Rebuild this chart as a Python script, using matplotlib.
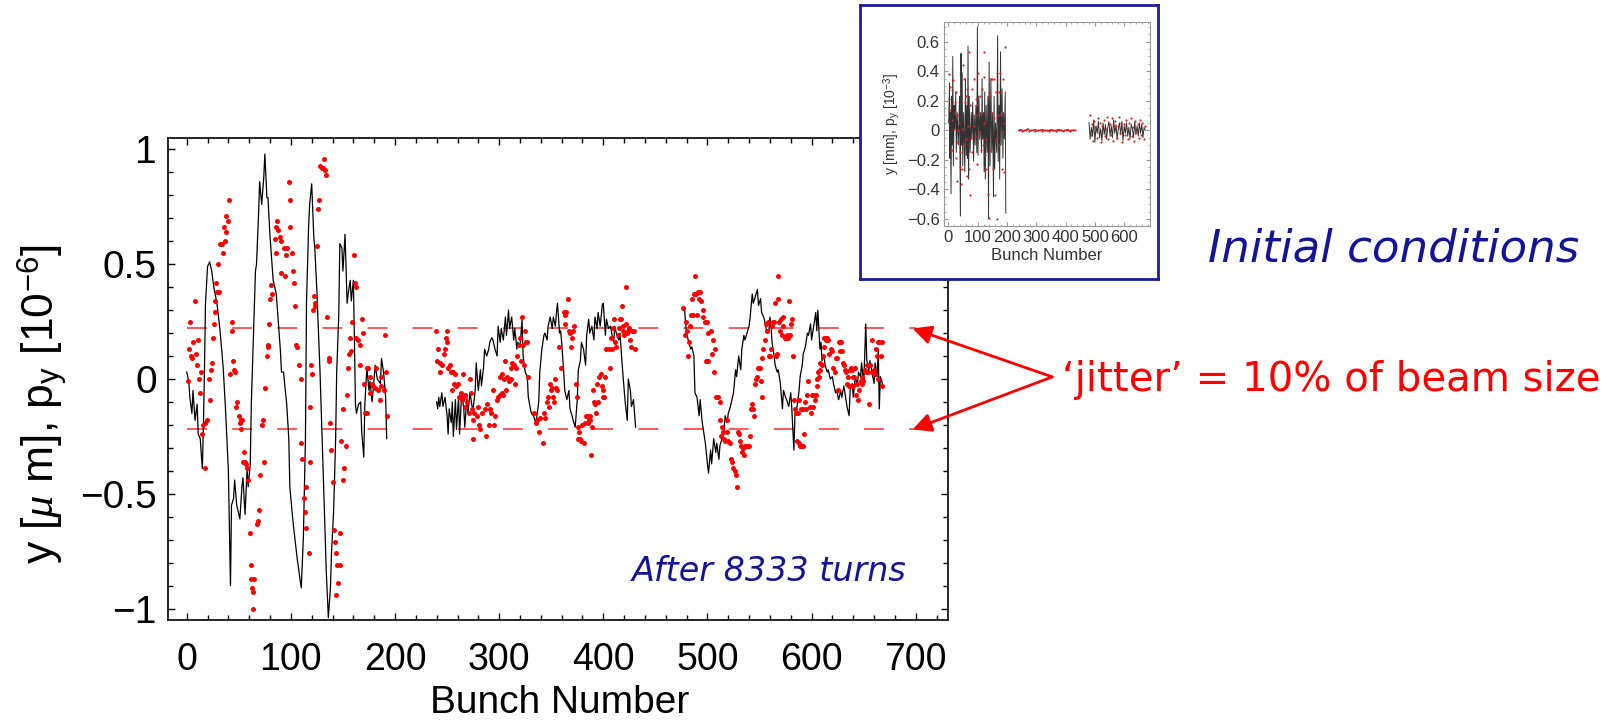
import matplotlib
import matplotlib.pyplot as plt
from matplotlib.ticker import MultipleLocator

plt.switch_backend('Agg')
plt.rcParams['font.family'] = ['Liberation Sans', 'DejaVu Sans']
plt.rcParams['mathtext.fontset'] = 'custom'
plt.rcParams['mathtext.rm'] = 'Liberation Sans'
plt.rcParams['mathtext.it'] = 'Liberation Serif:italic'

# ---- main plot: vertical offset y (line) per bunch, after 8333 turns ----
y_train1 = [(0, 0.03), (2, -0.01), (3, -0.08), (5, -0.15), (6, -0.05), (8, -0.18), (10, -0.11),
            (11, -0.24), (13, -0.26), (14, -0.33), (15, -0.39), (16, -0.21), (17, 0.03), (18, 0.33),
            (20, 0.49), (22, 0.51), (24, 0.47), (26, 0.40), (29, 0.33), (32, 0.21), (35, 0.05),
            (37, -0.11), (40, -0.40), (42, -0.90), (43, -0.55), (45, -0.52), (46, -0.44), (48, -0.55),
            (51, -0.61), (53, -0.47), (54, -0.43), (56, -0.59), (58, -0.39), (59, -0.47), (61, -0.37),
            (62, -0.11), (64, 0.18), (66, 0.47), (67, 0.50), (69, 0.72), (70, 0.86), (72, 0.76),
            (74, 0.88), (75, 0.98), (77, 0.79), (78, 0.79), (80, 0.62), (83, 0.43), (86, 0.37),
            (90, 0.12), (91, 0.03), (93, 0.03), (94, -0.02), (96, -0.11), (98, -0.26), (99, -0.47),
            (102, -0.62), (106, -0.78), (109, -0.88), (110, -0.91), (112, -0.69), (114, -0.26),
            (115, 0.33), (117, 0.66), (118, 0.76), (120, 0.85), (122, 0.62), (123, 0.57), (125, 0.38),
            (128, 0.03), (131, -0.40), (134, -0.84), (136, -1.04), (138, -0.91), (139, -0.76),
            (141, -0.58), (143, -0.26), (144, 0.03), (146, 0.28), (147, 0.59), (149, 0.57),
            (150, 0.47), (152, 0.63), (154, 0.33), (155, 0.37), (157, 0.43), (158, 0.34), (160, 0.43),
            (161, 0.18), (162, -0.11), (163, -0.15), (165, -0.11), (167, -0.10), (168, -0.23),
            (170, -0.34), (171, -0.11), (173, 0.05), (175, -0.05), (176, -0.01), (178, -0.10),
            (179, -0.05), (181, 0.06), (183, 0.00), (186, -0.02), (187, 0.09), (189, 0.03),
            (191, -0.08), (192, -0.26)]

y_train2 = [(240, -0.10), (241, -0.13), (242, -0.08), (243, -0.12), (245, -0.06), (246, -0.12),
            (248, -0.08), (250, -0.16), (251, -0.24), (252, -0.13), (254, -0.19), (255, -0.10),
            (256, -0.25), (258, -0.09), (259, -0.22), (261, -0.08), (262, -0.24), (264, -0.06),
            (266, -0.13), (267, -0.21), (269, -0.08), (270, -0.15), (272, -0.06), (274, -0.12),
            (275, -0.13), (277, -0.05), (278, 0.07), (280, -0.05), (282, 0.04), (283, -0.03),
            (285, 0.05), (286, 0.13), (288, 0.10), (290, 0.13), (291, 0.16), (293, 0.18), (294, 0.17),
            (296, 0.13), (298, 0.10), (299, 0.23), (301, 0.16), (302, 0.22), (304, 0.17), (306, 0.27),
            (307, 0.19), (309, 0.30), (310, 0.22), (312, 0.27), (314, 0.17), (315, 0.22), (317, 0.13),
            (318, 0.16), (320, 0.14), (322, 0.26), (323, 0.10), (325, 0.03), (327, 0.01), (328, -0.08),
            (330, -0.13), (331, -0.15), (333, -0.16), (335, -0.19), (336, -0.17), (338, -0.10),
            (339, 0.03), (341, 0.13), (343, 0.19), (344, 0.20), (346, 0.17), (347, 0.23), (349, 0.27),
            (351, 0.22), (352, 0.27), (354, 0.23), (355, 0.29), (356, 0.33), (358, 0.20), (359, 0.21),
            (360, 0.16), (362, 0.03), (363, -0.05), (365, -0.09), (367, -0.05), (368, -0.13),
            (370, -0.16), (371, -0.18), (373, -0.21), (375, -0.09), (376, 0.04), (378, 0.08),
            (379, 0.16), (381, 0.13), (383, 0.06), (384, 0.19), (386, 0.26), (387, 0.20), (389, 0.23),
            (391, 0.17), (392, 0.27), (394, 0.22), (395, 0.29), (397, 0.23), (399, 0.32), (400, 0.33),
            (402, 0.19), (403, 0.26), (405, 0.22), (407, 0.23), (408, 0.20), (410, 0.16), (411, 0.23),
            (413, 0.19), (415, 0.17), (416, 0.20), (418, 0.07), (419, 0.01), (421, -0.10),
            (423, -0.18), (424, 0.00), (426, -0.05), (427, -0.12), (429, -0.09), (430, -0.15),
            (431, -0.21)]

y_train3 = [(478, 0.31), (479, 0.24), (480, 0.20), (482, 0.16), (484, 0.13), (485, 0.14), (487, 0.10),
            (488, -0.06), (490, -0.08), (492, -0.16), (493, -0.09), (495, -0.19), (496, -0.22),
            (498, -0.28), (500, -0.37), (501, -0.41), (503, -0.31), (504, -0.37), (506, -0.26),
            (508, -0.32), (509, -0.28), (511, -0.35), (512, -0.29), (514, -0.26), (516, -0.22),
            (517, -0.16), (519, -0.19), (520, -0.15), (522, -0.12), (524, -0.08), (525, -0.06),
            (527, 0.04), (528, 0.01), (530, 0.10), (532, 0.04), (533, 0.13), (535, 0.19), (536, 0.17),
            (538, 0.20), (540, 0.23), (541, 0.27), (543, 0.37), (544, 0.33), (546, 0.36), (548, 0.39),
            (549, 0.32), (551, 0.35), (552, 0.29), (554, 0.27), (556, 0.23), (557, 0.20), (559, 0.21),
            (560, 0.27), (561, 0.23), (562, 0.16), (564, 0.10), (565, 0.06), (567, 0.03), (568, 0.04),
            (570, -0.02), (572, -0.13), (573, -0.05), (575, -0.08), (576, -0.09), (578, -0.12),
            (580, -0.06), (581, -0.13), (583, -0.31), (584, -0.16), (586, -0.12), (588, -0.05),
            (589, 0.01), (591, 0.06), (592, 0.11), (594, 0.14), (596, 0.20), (597, 0.19), (599, 0.24),
            (600, 0.17), (602, 0.23), (604, 0.29), (605, 0.21), (606, 0.30), (608, 0.13), (609, 0.16),
            (610, 0.08), (612, 0.10), (613, 0.06), (615, 0.03), (616, 0.04), (618, 0.00), (620, 0.01),
            (621, -0.02), (623, -0.06), (624, -0.05), (626, -0.09), (628, -0.05), (629, -0.08),
            (631, -0.03), (632, -0.06), (634, -0.12), (636, -0.16), (637, -0.05), (639, -0.02),
            (640, -0.08), (642, 0.01), (644, -0.03), (645, 0.03), (647, 0.01), (648, 0.07),
            (650, -0.02), (651, 0.10), (652, 0.24), (653, 0.08), (655, 0.04), (656, 0.08), (658, 0.03),
            (660, -0.02), (661, 0.07), (663, 0.01), (664, 0.13), (665, -0.13), (666, 0.01), (668, -0.02)]

# ---- main plot: angle p_y (red dots) per bunch ----
py_train1 = [(1, -0.01), (3, 0.25), (2, 0.13), (4, 0.10), (5, 0.09), (6, 0.16), (8, 0.34), (9, 0.11),
             (10, 0.06), (11, 0.17), (12, 0.00), (13, -0.06), (14, 0.03), (15, -0.24), (16, -0.20),
             (18, -0.39), (19, -0.18), (18, -0.19), (21, 0.00), (22, -0.09), (23, 0.04), (24, 0.07),
             (25, 0.18), (26, 0.24), (27, 0.29), (27, 0.34), (28, 0.42), (29, 0.38), (31, 0.38),
             (30, 0.50), (32, 0.59), (34, 0.59), (35, 0.55), (36, 0.66), (37, 0.60), (38, 0.64),
             (38, 0.71), (40, 0.69), (41, 0.78), (42, 0.02), (43, 0.25), (43, 0.21), (44, 0.08),
             (45, 0.04), (46, 0.03), (47, -0.12), (48, -0.10), (50, -0.16), (51, -0.19), (52, -0.18),
             (52, -0.22), (53, -0.18), (55, -0.32), (54, -0.36), (56, -0.36), (57, -0.37), (59, -0.44),
             (58, -0.39), (61, -0.67), (62, -0.81), (62, -0.87), (63, -0.91), (64, -0.93), (65, -0.87),
             (64, -1.00), (67, -0.63), (68, -0.62), (69, -0.57), (70, -0.42), (72, -0.20), (73, -0.18),
             (74, -0.36), (75, -0.04), (77, 0.10), (78, 0.14), (78, 0.15), (79, 0.24), (80, 0.35),
             (81, 0.41), (82, 0.37), (85, 0.61), (86, 0.55), (86, 0.66), (87, 0.69), (88, 0.65),
             (90, 0.62), (91, 0.60), (91, 0.46), (93, 0.57), (94, 0.45), (95, 0.54), (96, 0.57),
             (98, 0.86), (99, 0.78), (99, 0.66), (101, 0.55), (102, 0.47), (103, 0.42), (104, 0.32),
             (105, 0.15), (106, 0.14), (108, 0.06), (110, 0.00), (110, -0.28), (111, -0.35),
             (113, -0.52), (114, -0.58), (115, -0.47), (115, -0.65), (117, -0.76), (118, -0.36),
             (118, -0.12), (119, 0.06), (120, 0.02), (121, 0.30), (122, 0.36), (123, 0.32), (123, 0.33),
             (125, 0.58), (126, 0.74), (127, 0.78), (128, 0.93), (130, 0.92), (131, 0.92), (133, 0.91),
             (134, 0.89), (132, 0.96), (135, 0.27), (137, 0.09), (137, 0.08), (138, -0.19), (139, -0.31),
             (140, -0.45), (141, -0.66), (142, -0.71), (143, -0.76), (144, -0.81), (145, -0.89),
             (143, -0.94), (147, -0.81), (147, -0.67), (148, -0.27), (150, -0.13), (150, -0.44),
             (151, -0.39), (153, -0.29), (154, -0.07), (155, 0.05), (156, 0.11), (157, 0.18),
             (158, 0.12), (159, 0.25), (161, 0.54), (162, 0.42), (163, 0.40), (163, 0.18), (164, 0.17),
             (166, 0.06), (166, 0.15), (168, 0.26), (169, 0.20), (170, -0.02), (173, 0.05), (174, 0.05),
             (176, 0.01), (178, -0.02), (179, -0.03), (181, -0.04), (182, 0.05), (184, -0.05),
             (186, -0.09), (187, 0.01), (187, -0.03), (189, -0.05), (190, 0.19), (191, 0.03),
             (192, -0.16), (176, -0.06), (173, -0.15), (171, -0.15)]

py_train2 = [(239, 0.21), (240, 0.08), (241, 0.13), (243, 0.07), (243, 0.03), (245, 0.06), (247, 0.11),
             (248, 0.13), (249, 0.18), (250, 0.21), (250, 0.16), (251, 0.05), (253, 0.06), (254, 0.03),
             (255, -0.05), (256, 0.03), (257, -0.02), (258, 0.02), (259, -0.03), (260, -0.02),
             (261, -0.08), (263, -0.06), (264, -0.09), (265, 0.02), (266, -0.08), (267, -0.12),
             (267, -0.07), (269, -0.10), (271, -0.15), (272, 0.00), (273, -0.06), (274, -0.13),
             (275, -0.18), (275, -0.26), (276, -0.15), (279, -0.16), (280, -0.12), (281, -0.20),
             (282, -0.22), (284, -0.15), (286, -0.13), (287, -0.25), (288, -0.11), (290, -0.20),
             (291, -0.13), (292, -0.15), (294, -0.05), (295, -0.20), (296, -0.16), (298, -0.09),
             (299, -0.08), (301, -0.07), (303, -0.06), (304, -0.07), (301, 0.01), (303, 0.02),
             (305, 0.00), (306, 0.08), (307, -0.05), (308, 0.01), (309, -0.01), (311, 0.00),
             (311, 0.05), (312, 0.07), (314, 0.06), (315, -0.02), (316, 0.05), (317, 0.10), (319, 0.15),
             (320, 0.18), (321, 0.08), (322, 0.27), (323, 0.15), (324, 0.06), (325, 0.21), (326, 0.16),
             (327, 0.16), (328, 0.01), (333, -0.15), (335, -0.19), (336, -0.18), (338, -0.23),
             (339, -0.17), (342, -0.28), (343, -0.15), (344, -0.17), (346, -0.10), (347, -0.08),
             (348, -0.12), (349, -0.02), (350, -0.05), (351, -0.04), (352, -0.08), (353, -0.10),
             (354, 0.00), (355, -0.04), (356, -0.05), (357, 0.14), (359, 0.05), (362, 0.29),
             (363, 0.28), (363, 0.24), (364, 0.29), (366, 0.35), (367, 0.21), (368, 0.20), (369, 0.14),
             (370, 0.18), (371, 0.21), (372, 0.23), (374, -0.02), (375, -0.08), (376, -0.21),
             (376, -0.26), (377, -0.23), (378, -0.26), (379, -0.27), (380, -0.20), (381, -0.28),
             (382, -0.19), (383, -0.16), (384, -0.16), (385, -0.19), (386, -0.18), (387, -0.16),
             (387, -0.18), (388, -0.33), (389, -0.21), (390, -0.05), (391, -0.10), (392, -0.11),
             (393, -0.15), (394, -0.02), (395, -0.10), (396, 0.01), (398, 0.02), (399, -0.03),
             (400, -0.05), (400, -0.08), (401, -0.08), (402, 0.01), (403, 0.13), (405, 0.13),
             (406, 0.05), (407, 0.18), (408, 0.13), (409, 0.22), (410, 0.26), (411, 0.16), (412, 0.14),
             (414, 0.19), (415, 0.22), (416, 0.26), (417, 0.26), (418, 0.32), (419, 0.23), (419, 0.21),
             (420, 0.19), (422, 0.40), (422, 0.24), (423, 0.20), (424, 0.21), (425, 0.22), (426, 0.17),
             (427, 0.14), (428, 0.21), (429, 0.21), (430, 0.13)]

py_train3 = [(477, 0.31), (478, 0.19), (479, 0.25), (480, 0.21), (481, 0.10), (482, 0.16), (483, 0.23),
             (484, 0.28), (485, 0.35), (486, 0.28), (487, 0.37), (488, 0.45), (489, 0.37), (490, 0.28),
             (491, 0.38), (492, 0.35), (493, 0.38), (494, 0.34), (496, 0.30), (496, 0.27), (498, 0.25),
             (500, 0.25), (501, 0.20), (503, 0.21), (504, 0.11), (505, 0.17), (506, 0.03), (507, 0.13),
             (499, 0.08), (501, 0.08), (508, -0.08), (510, -0.08), (512, -0.10), (512, -0.18),
             (514, -0.21), (513, -0.25), (515, -0.23), (516, -0.26), (517, -0.27), (519, -0.23),
             (519, -0.18), (520, -0.27), (522, -0.28), (523, -0.35), (524, -0.36), (525, -0.39),
             (526, -0.40), (527, -0.42), (528, -0.47), (529, -0.23), (530, -0.24), (531, -0.27),
             (532, -0.29), (533, -0.32), (534, -0.30), (535, -0.33), (536, -0.29), (538, -0.29),
             (540, -0.29), (541, -0.25), (542, -0.13), (543, -0.11), (544, -0.13), (545, -0.16),
             (546, -0.02), (547, 0.00), (548, 0.01), (549, 0.05), (550, 0.05), (551, -0.01),
             (552, -0.08), (552, 0.09), (553, 0.13), (555, 0.17), (556, 0.24), (557, 0.21), (558, 0.25),
             (559, 0.10), (560, 0.10), (561, 0.13), (562, 0.23), (563, 0.25), (564, 0.25), (565, 0.33),
             (566, 0.10), (567, 0.11), (568, 0.35), (568, 0.45), (569, 0.25), (570, 0.21), (571, 0.26),
             (572, 0.19), (573, 0.23), (573, 0.27), (574, 0.18), (575, 0.18), (576, 0.19), (577, 0.18),
             (578, 0.34), (579, 0.19), (580, 0.24), (581, 0.26), (582, 0.10), (583, -0.09),
             (584, -0.13), (585, -0.15), (586, -0.27), (588, -0.28), (589, -0.29), (591, -0.29),
             (592, -0.29), (587, -0.15), (588, -0.09), (590, -0.13), (592, -0.13), (593, -0.24),
             (594, -0.10), (595, -0.13), (596, -0.07), (597, -0.01), (598, -0.12), (599, -0.15),
             (600, -0.07), (601, -0.12), (602, -0.07), (603, -0.09), (604, -0.07), (605, -0.03),
             (605, 0.00), (606, 0.03), (607, 0.01), (608, 0.04), (608, 0.07), (610, 0.06), (611, 0.10),
             (612, 0.14), (612, 0.18), (613, 0.18), (614, 0.17), (615, 0.18), (616, 0.17), (617, 0.11),
             (619, 0.13), (620, 0.12), (621, 0.05), (622, 0.03), (623, 0.09), (624, 0.09), (625, -0.05),
             (626, 0.16), (627, 0.12), (628, 0.16), (629, 0.12), (630, 0.07), (631, 0.06), (632, 0.04),
             (633, 0.03), (634, -0.02), (635, 0.01), (636, -0.03), (637, 0.04), (638, 0.05), (639, 0.04),
             (640, 0.01), (640, -0.03), (641, 0.01), (642, 0.05), (643, -0.07), (644, -0.02),
             (645, -0.09), (646, -0.05), (647, -0.01), (648, -0.02), (648, 0.01), (649, -0.01),
             (651, 0.04), (652, 0.03), (653, 0.06), (654, 0.03), (655, -0.11), (656, 0.06), (658, 0.03),
             (658, 0.17), (660, 0.04), (661, 0.02), (662, 0.13), (663, 0.10), (664, 0.16), (664, 0.00),
             (665, 0.16), (667, 0.10), (668, 0.16), (668, -0.03)]

jitter = 0.22          # 10% of beam size
jitter_span = (0, 700)

# ---- inset: initial conditions ----
ins_y1 = [(1, 0.05), (4, 0.32), (5, -0.19), (7, 0.12), (9, -0.43), (11, 0.23), (13, -0.10), (15, 0.50),
          (17, -0.24), (20, 0.17), (22, 0.01), (25, 0.26), (27, -0.15), (30, 0.12), (34, -0.10),
          (38, 0.23), (41, -0.58), (43, 0.52), (45, -0.10), (47, 0.39), (49, -0.24), (52, 0.12),
          (56, -0.28), (58, 0.35), (61, -0.17), (63, 0.17), (65, -0.19), (67, 0.57), (69, -0.33),
          (71, 0.23), (74, -0.15), (78, 0.12), (80, -0.06), (83, 0.19), (86, -0.21), (88, 0.10),
          (91, -0.10), (94, 0.17), (97, -0.15), (99, 0.70), (101, -0.17), (104, 0.23), (107, -0.06),
          (110, 0.12), (113, -0.15), (115, 0.35), (117, -0.06), (120, 0.12), (122, -0.28), (124, 0.26),
          (126, -0.33), (129, 0.17), (132, -0.15), (135, 0.23), (137, -0.60), (139, 0.46), (142, -0.24),
          (145, 0.35), (148, -0.15), (151, 0.12), (154, -0.45), (156, 0.23), (158, -0.26), (161, 0.05),
          (165, -0.15), (168, 0.64), (170, -0.21), (173, 0.17), (175, -0.33), (178, 0.53), (180, -0.10),
          (183, 0.28), (186, -0.19), (188, 0.12), (191, -0.06), (194, 0.26), (196, -0.56)]
ins_y2 = [(240, 0.000), (248, 0.005), (256, -0.005), (264, 0.000), (272, 0.010), (280, -0.005),
          (288, 0.000), (296, 0.005), (304, -0.005), (312, 0.000), (320, 0.005), (328, 0.000),
          (336, -0.005), (344, 0.000), (352, 0.005), (360, -0.005), (368, 0.000), (376, 0.005),
          (384, 0.000), (392, -0.005), (400, 0.000), (408, 0.005), (416, -0.005), (424, 0.000),
          (432, 0.000)]
ins_y3 = [(480, 0.05), (484, -0.06), (488, 0.02), (492, -0.04), (496, 0.07), (500, -0.08), (504, 0.03),
          (508, -0.02), (512, 0.06), (516, -0.05), (520, 0.01), (524, -0.07), (528, 0.05), (532, -0.03),
          (536, 0.04), (540, -0.06), (544, 0.02), (548, 0.06), (552, -0.04), (556, 0.03), (560, -0.05),
          (564, 0.07), (568, -0.02), (572, 0.04), (576, -0.06), (580, 0.01), (584, 0.05), (588, -0.03),
          (592, 0.06), (596, -0.07), (600, 0.03), (604, -0.02), (608, 0.05), (612, -0.04), (616, 0.02),
          (620, -0.06), (624, 0.04), (628, 0.01), (632, -0.05), (636, 0.06), (640, -0.03), (644, 0.03),
          (648, -0.04), (652, 0.05), (656, -0.02), (660, 0.04), (664, -0.05), (668, 0.02), (672, 0.00)]

ins_py1 = [(1, 0.21), (3, 0.38), (5, 0.29), (7, 0.14), (9, 0.17), (11, 0.07), (12, 0.27), (14, -0.13),
           (17, 0.34), (20, 0.01), (22, 0.19), (23, 0.12), (25, -0.19), (27, 0.26), (29, -0.34),
           (30, -0.08), (33, 0.00), (34, 0.10), (36, 0.05), (38, -0.15), (40, -0.25), (43, -0.36),
           (45, 0.01), (47, -0.26), (49, 0.44), (52, 0.35), (54, -0.10), (57, 0.19), (59, -0.06),
           (61, 0.23), (63, 0.28), (65, -0.31), (67, 0.03), (69, 0.53), (71, -0.26), (73, -0.44),
           (75, 0.17), (78, -0.05), (80, -0.15), (82, 0.28), (84, 0.10), (87, 0.35), (88, 0.03),
           (91, -0.04), (93, 0.21), (96, 0.10), (98, -0.23), (100, 0.39), (102, 0.17), (104, 0.12),
           (107, 0.23), (109, -0.01), (110, 0.12), (112, -0.13), (114, 0.28), (117, -0.10), (120, 0.53),
           (122, 0.36), (123, 0.05), (126, -0.17), (128, -0.26), (130, -0.06), (133, 0.12), (135, -0.43),
           (137, -0.59), (139, 0.26), (141, -0.13), (143, 0.23), (146, 0.35), (148, 0.12), (150, 0.35),
           (152, -0.26), (154, 0.08), (157, 0.35), (159, -0.44), (161, -0.06), (163, 0.26), (165, 0.39),
           (167, -0.60), (170, 0.10), (172, 0.26), (174, -0.10), (176, 0.39), (178, 0.12), (180, 0.10),
           (183, -0.26), (185, -0.01), (187, 0.35), (189, -0.28), (191, 0.05), (193, 0.56)]
ins_py2 = [(240, 0.005), (246, 0.000), (252, -0.005), (258, 0.005), (264, 0.000), (270, 0.010),
           (276, -0.005), (282, 0.000), (288, 0.005), (294, -0.005), (300, 0.000), (306, 0.005),
           (312, 0.000), (318, -0.005), (324, 0.005), (330, 0.000), (336, 0.005), (342, -0.005),
           (348, 0.000), (354, 0.005), (360, 0.000), (366, -0.005), (372, 0.005), (378, 0.000),
           (384, 0.005), (390, -0.005), (396, 0.000), (402, 0.005), (408, 0.000), (414, -0.005),
           (420, 0.005), (426, 0.000), (432, 0.000)]
ins_py3 = [(482, 0.10), (486, -0.03), (490, 0.04), (494, -0.07), (498, 0.06), (502, 0.02), (506, -0.05),
           (510, 0.08), (514, -0.02), (518, 0.05), (522, -0.08), (526, 0.03), (530, 0.07), (534, -0.04),
           (538, 0.01), (542, 0.09), (546, -0.06), (550, 0.04), (554, -0.03), (558, 0.08), (562, -0.07),
           (566, 0.02), (570, 0.06), (574, -0.05), (578, 0.03), (582, 0.09), (586, -0.02), (590, 0.05),
           (594, -0.08), (598, 0.04), (602, -0.03), (606, 0.07), (610, 0.01), (614, -0.06), (618, 0.05),
           (622, 0.08), (626, -0.04), (630, 0.02), (634, -0.07), (638, 0.06), (642, -0.01), (646, 0.04),
           (650, -0.05), (654, 0.07), (658, -0.03), (662, 0.05), (666, -0.06), (670, 0.03)]


def main():
    fig = plt.figure(figsize=(16.09, 7.22), dpi=100)

    # Main chart
    ax = fig.add_axes([0.1044, 0.1413, 0.4848, 0.6676])
    for pts in (y_train1, y_train2, y_train3):
        xs, ys = zip(*pts)
        ax.plot(xs, ys, color='black', lw=0.9, zorder=2)
    for pts in (py_train1, py_train2, py_train3):
        xs, ys = zip(*pts)
        ax.plot(xs, ys, 'o', color='red', ms=3.6, mew=0, zorder=3)
    ax.hlines([jitter, -jitter], *jitter_span, colors='#ff4a4a', lw=1.3,
              linestyles=[(0, (11, 14))], zorder=1)

    ax.set_xlim(-18, 731)
    ax.set_ylim(-1.05, 1.05)
    ax.xaxis.set_major_locator(MultipleLocator(100))
    ax.xaxis.set_minor_locator(MultipleLocator(20))
    ax.set_yticks([-1, -0.5, 0, 0.5, 1])
    ax.set_yticklabels(['\u22121', '\u22120.5', '0', '0.5', '1'])
    ax.yaxis.set_minor_locator(MultipleLocator(0.1))
    ax.tick_params(which='both', direction='in', top=True, right=True, width=1)
    ax.tick_params(which='major', length=5)
    ax.tick_params(which='minor', length=3.5)
    ax.tick_params(axis='y', labelsize=28, pad=8)
    ax.tick_params(axis='x', labelsize=27, pad=16)
    for sp in ax.spines.values():
        sp.set_linewidth(1.2)

    fig.text(0.026, 0.44, r'y [$\mu$ m], p$_\mathrm{y}$ [10$^{-6}$]', rotation=90,
             ha='center', va='center', fontsize=32)
    fig.text(0.348, 0.026, 'Bunch Number', ha='center', va='center', fontsize=28)
    fig.text(0.5637, 0.208, 'After 8333 turns', ha='right', va='center', style='italic',
             color='#14149a', fontsize=24, family='DejaVu Sans')

    # Arrows to the jitter band
    for yv in (jitter, -jitter):
        ax.annotate('', xy=(697, yv), xycoords='data', xytext=(0.654, 0.478),
                    textcoords='figure fraction', annotation_clip=False,
                    arrowprops=dict(arrowstyle='-|>', color='red', lw=2,
                                    mutation_scale=28, shrinkA=0, shrinkB=0))
    fig.text(0.66, 0.474, '\u2018jitter\u2019 = 10% of beam size', color='red',
             va='center', fontsize=29, family='DejaVu Sans')

    # Inset frame (blue box)
    box = fig.add_axes([0.5345, 0.6136, 0.1852, 0.3795], zorder=5)
    box.set_xticks([])
    box.set_yticks([])
    for sp in box.spines.values():
        sp.set_color('#1c1c9c')
        sp.set_linewidth(2)

    ins = fig.add_axes([0.5867, 0.687, 0.128, 0.2821], zorder=6)
    for pts in (ins_y1, ins_y2, ins_y3):
        xs, ys = zip(*pts)
        ins.plot(xs, ys, color='#333333', lw=0.7)
    for pts in (ins_py1, ins_py2, ins_py3):
        xs, ys = zip(*pts)
        ins.plot(xs, ys, 'o', color='#e02020', ms=1.6, mew=0)
    ins.set_xlim(-15, 688)
    ins.set_ylim(-0.647, 0.73)
    ins.xaxis.set_major_locator(MultipleLocator(100))
    ins.xaxis.set_minor_locator(MultipleLocator(20))
    ins.set_yticks([-0.6, -0.4, -0.2, 0, 0.2, 0.4, 0.6])
    ins.set_yticklabels(['\u22120.6', '\u22120.4', '\u22120.2', '0', '0.2', '0.4', '0.6'])
    ins.yaxis.set_minor_locator(MultipleLocator(0.05))
    ins.tick_params(which='both', direction='in', top=True, right=True, color='#999999',
                    labelcolor='#333333', labelsize=12, pad=3)
    ins.tick_params(which='major', length=3)
    ins.tick_params(which='minor', length=1.5)
    for sp in ins.spines.values():
        sp.set_color('#999999')
        sp.set_linewidth(0.8)
    ins.set_xlabel('Bunch Number', fontsize=12, color='#333333', labelpad=2)
    ins.set_ylabel(r'y [mm], p$_\mathrm{y}$ [10$^{-3}$]', fontsize=10, color='#333333', labelpad=3)

    fig.text(0.7508, 0.655, 'Initial conditions', ha='left', va='center', style='italic',
             color='#14149a', fontsize=32.5, family='DejaVu Sans')

    fig.savefig('out.png', dpi=100)


if __name__ == "__main__":
    main()
